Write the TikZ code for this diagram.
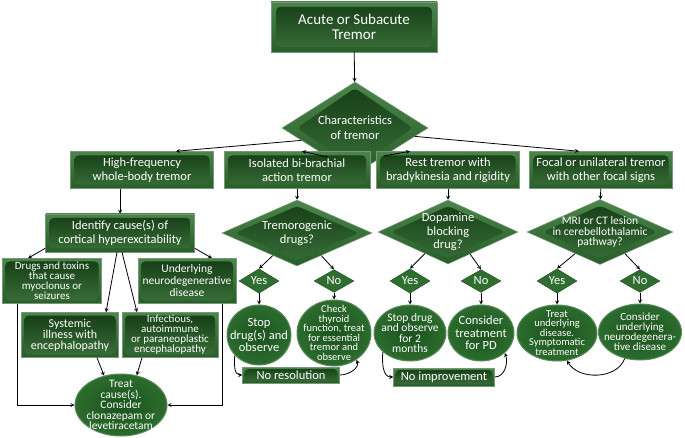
\documentclass[tikz,border=0pt]{standalone}
\usepackage{fontspec}
\setmainfont{Carlito}
\usetikzlibrary{shapes.geometric}

\definecolor{frame}{HTML}{7A967A}
\definecolor{outtop}{HTML}{4A854A}
\definecolor{outbot}{HTML}{285E29}
\definecolor{intop}{HTML}{153D15}
\definecolor{inbot}{HTML}{3A703A}
\definecolor{yngreen}{HTML}{2F6E30}
\definecolor{yndark}{HTML}{1D4D1D}
\definecolor{ellin}{HTML}{1B521D}
\definecolor{ellout}{HTML}{2C6C2E}
\definecolor{ellrim}{HTML}{5A8A5A}

\newcommand{\fsz}[2]{\fontsize{#1}{#2}\selectfont}

\tikzset{
  box/.style={rectangle, draw=frame, line width=0.5pt, top color=outtop, bottom color=outbot,
    text=white, align=center, inner sep=0pt, font=\fsz{12.5}{13.5},
    path picture={\shade[top color=intop, bottom color=inbot, rounded corners=4pt]
      ([shift={(#1,-#1)}]path picture bounding box.north west) rectangle
      ([shift={(-#1,#1)}]path picture bounding box.south east);}},
  box/.default=4pt,
  dmd/.style={diamond, draw=frame, line width=0.5pt, top color=outtop, bottom color=outbot, inner sep=0pt,
    path picture={\shade[top color=intop, bottom color=inbot, rounded corners=4pt]
      ([yshift=-6pt]path picture bounding box.north) -- ([xshift=-#1]path picture bounding box.east) --
      ([yshift=6pt]path picture bounding box.south) -- ([xshift=#1]path picture bounding box.west) -- cycle;}},
  dmd/.default=13pt,
  yn/.style={diamond, fill=yngreen, draw=yndark, line width=0.4pt, text=white, inner sep=0pt,
    minimum width=40pt, minimum height=22pt, font=\fsz{12.5}{12}},
  ell/.style={ellipse, draw=ellrim, line width=1pt, inner color=ellin, outer color=ellout, inner sep=0pt},
  ltxt/.style={text=white, align=center, inner sep=0pt}
}

\begin{document}
\begin{tikzpicture}[x=1pt,y=-1pt,>=stealth,line width=0.8pt]
\useasboundingbox (0,0) rectangle (685,438);

\node[box=5pt, minimum width=166pt, minimum height=50pt, font=\fsz{15}{15}] (top) at (354,27) {Acute or Subacute\\Tremor};
\node[dmd=15pt, minimum width=146pt, minimum height=92pt, label={[ltxt,font=\fsz{12.5}{15}]center:Characteristics\\of tremor}] (chars) at (355,128) {};

\node[box, minimum width=143pt, minimum height=37pt] (high) at (142,170) {High-frequency\\whole-body tremor};
\node[box, minimum width=146pt, minimum height=37pt] (bibr) at (297,170) {Isolated bi-brachial\\action tremor};
\node[box, minimum width=143pt, minimum height=37pt] (rest) at (448,170) {Rest tremor with\\bradykinesia and rigidity};
\node[box, minimum width=143pt, minimum height=37pt] (focal) at (601,170) {Focal or unilateral tremor\\with other focal signs};

\node[box, minimum width=149pt, minimum height=38pt] (ident) at (120,233) {Identify cause(s) of\\cortical hyperexcitability};
\node[box=3pt, minimum width=99pt, minimum height=45pt, font=\fsz{11}{10}] (drugs) at (52,281) {Drugs and toxins\\that cause\\myoclonus or\\seizures};
\node[box=3pt, minimum width=98pt, minimum height=45pt, font=\fsz{11.5}{12}] (neuro) at (187,281) {Underlying\\neurodegenerative\\disease};
\node[box=3pt, minimum width=97pt, minimum height=45pt, font=\fsz{12}{11}] (syst) at (70,335) {Systemic\\illness with\\encephalopathy};
\node[box=3pt, minimum width=96pt, minimum height=45pt, font=\fsz{11}{10}] (infect) at (170,335) {Infectious,\\autoimmune\\or paraneoplastic\\encephalopathy};
\node[ell, minimum width=92pt, minimum height=62pt, label={[ltxt,font=\fsz{11.5}{10.5}]center:Treat\\cause(s).\\Consider\\clonazepam or\\levetiracetam}] (treat) at (121,405) {};

\node[dmd, minimum width=150pt, minimum height=66pt, label={[ltxt,font=\fsz{12.5}{14}]center:Tremorogenic\\drugs?}] (trem) at (297,233) {};
\node[yn] (yes1) at (259,281) {Yes};
\node[yn] (no1) at (334,281) {No};
\node[ell, minimum width=64pt, minimum height=60pt, label={[ltxt,font=\fsz{12.5}{12.5}]center:Stop\\drug(s) and\\observe}] (stop1) at (259,335) {};
\node[ell, minimum width=74pt, minimum height=66pt, label={[ltxt,font=\fsz{10.5}{9.5}]center:{Check\\thyroid\\function, treat\\for essential\\tremor and\\observe}}] (check) at (334,333) {};
\node[box=2pt, minimum width=97pt, minimum height=16pt] (nores) at (291,375) {No resolution};

\node[dmd, minimum width=140pt, minimum height=64pt, label={[ltxt,font=\fsz{12.5}{13.5}]center:Dopamine\\blocking\\drug?}] (dopa) at (448,232) {};
\node[yn] (yes2) at (410,281) {Yes};
\node[yn] (no2) at (481,281) {No};
\node[ell, minimum width=72pt, minimum height=56pt, label={[ltxt,font=\fsz{11.5}{10.5}]center:Stop drug\\and observe\\for 2\\months}] (stop2) at (410,333) {};
\node[ell, minimum width=66pt, minimum height=56pt, label={[ltxt,font=\fsz{12.5}{12.5}]center:Consider\\treatment\\for PD}] (pd) at (481,333) {};
\node[box=2pt, minimum width=101pt, minimum height=18pt] (noimp) at (444,377) {No improvement};

\node[dmd=16pt, minimum width=146pt, minimum height=65pt, label={[ltxt,font=\fsz{11.5}{10.5}]center:MRI or CT lesion\\in cerebellothalamic\\pathway?}] (mri) at (600,232) {};
\node[yn] (yes3) at (557,281) {Yes};
\node[yn] (no3) at (640,281) {No};
\node[ell, minimum width=80pt, minimum height=56pt, label={[ltxt,font=\fsz{10.5}{9.5}]center:Treat\\underlying\\disease.\\Symptomatic\\treatment}] (treatu) at (557,333) {};
\node[ell, minimum width=83pt, minimum height=56pt, label={[ltxt,font=\fsz{11}{10}]center:Consider\\underlying\\neurodegenera-\\tive disease}] (consu) at (640,332) {};

\draw[->] (top) -- (chars);
\draw[->] (chars.193) -- ([xshift=34pt]high.north);
\draw[->] (chars.227) -- ([xshift=5pt]bibr.north);
\draw[->] (chars.316) -- ([xshift=-38pt]rest.north);
\draw[->] (chars.352) -- ([xshift=-22pt]focal.north);

\draw[->] (high.south -| ident.north) -- (ident.north);
\draw[->] ([yshift=4pt]ident.south west) -- ([xshift=-24pt]drugs.north);
\draw[->] ([yshift=4pt]ident.south east) -- ([xshift=25pt]neuro.north);
\draw[->] ([xshift=-3pt]ident.south) -- ([xshift=36pt]syst.north);
\draw[->] ([xshift=2pt]ident.south) -- ([xshift=-33pt]infect.north);
\draw[->] ([xshift=27pt]syst.south) -- (treat.120);
\draw[->] ([xshift=-28pt]infect.south) -- (treat.62);
\draw[->] ([xshift=-35pt]drugs.south) |- (treat.west);
\draw[->] ([xshift=35pt]neuro.south) |- (treat.east);

\draw[->] (bibr) -- (trem);
\draw[->] (trem.223) -- (yes1.north);
\draw[->] (trem.317) -- (no1.north);
\draw[->] (yes1) -- (stop1);
\draw[->] (no1) -- (check);
\draw[->] (stop1.220) to[out=265,in=180] (nores.west);
\draw[->] (nores.east) to[out=0,in=290] (check.310);

\draw[->] (rest) -- (dopa);
\draw[->] (dopa.223) -- (yes2.north);
\draw[->] (dopa.315) -- (no2.north);
\draw[->] (yes2) -- (stop2);
\draw[->] (no2) -- (pd);
\draw[->] (stop2.215) to[out=265,in=180] (noimp.west);
\draw[->] (noimp.east) to[out=0,in=290] (pd.320);

\draw[->] (focal) -- (mri);
\draw[->] (mri.221) -- (yes3.north);
\draw[->] (mri.319) -- (no3.north);
\draw[->] (yes3) -- (treatu);
\draw[->] (no3) -- (consu);
\draw[->] (consu.240) to[out=250,in=300] (treatu.290);
\end{tikzpicture}
\end{document}
